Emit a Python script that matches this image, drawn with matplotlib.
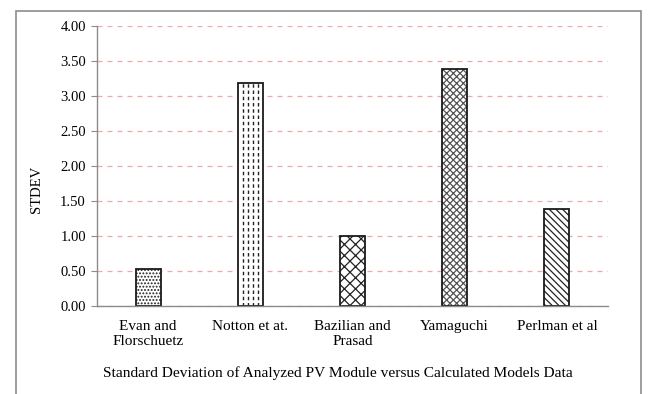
import matplotlib.pyplot as plt
from matplotlib.patches import Rectangle
from matplotlib.ticker import MultipleLocator, FormatStrFormatter

plt.rcParams['font.family'] = ['Liberation Serif', 'DejaVu Serif']
plt.rcParams['hatch.linewidth'] = 0.9

models = ['Evan and\nFlorschuetz', 'Notton et at.', 'Bazilian and\nPrasad',
          'Yamaguchi', 'Perlman et al']
stdev = [0.53, 3.19, 1.00, 3.39, 1.38]
hatches = ['.....', '', 'xxx', 'xxxxx', '\\\\\\\\\\']
hatch_colors = ['#222222', '#222222', '#222222', '#555555', '#222222']

fig = plt.figure(figsize=(6.51, 3.94), dpi=100)
ax = fig.add_axes([0.149, 0.2234, 0.785, 0.7106])

x = list(range(len(models)))
width = 0.245
# hatch layer first, then a plain outline on top
for xi, v, h, hc in zip(x, stdev, hatches, hatch_colors):
    ax.bar(xi, v, width=width, color='white', edgecolor=hc, hatch=h, linewidth=0)

# Notton bar uses dashed vertical stripes instead of a hatch
i = 1
for off in (-0.075, -0.025, 0.025, 0.075):
    ax.vlines(x[i] + off, 0, stdev[i], colors='#222222', linewidth=1.0,
              linestyles=(0, (2.5, 2)))

ax.bar(x, stdev, width=width, color='none', edgecolor='#1a1a1a', linewidth=1.3)

ax.set_xlim(-0.5, len(models) - 0.5)
ax.set_ylim(0, 4.0)
ax.yaxis.set_major_locator(MultipleLocator(0.5))
ax.yaxis.set_major_formatter(FormatStrFormatter('%.2f'))
ax.set_xticks(x)
ax.set_xticklabels(models, fontsize=11, linespacing=1.2)

ax.grid(axis='y', color='#eeaaaa', linestyle=(0, (4, 4)), linewidth=0.9)
ax.set_axisbelow(True)

for s in ['top', 'right']:
    ax.spines[s].set_visible(False)
for s in ['left', 'bottom']:
    ax.spines[s].set_color('#8c8c8c')
    ax.spines[s].set_linewidth(1.0)

ax.tick_params(axis='y', direction='out', length=4, color='#8c8c8c',
               labelsize=10.5, pad=4)
ax.tick_params(axis='x', length=0, pad=10)

ax.set_ylabel('STDEV', fontsize=10.5)
ax.yaxis.set_label_coords(-0.105, 0.418)
ax.set_xlabel('Standard Deviation of Analyzed PV Module versus Calculated Models Data',
              fontsize=11.1)
ax.xaxis.set_label_coords(0.472, -0.215)

# outer frame around the chart
fig.patches.append(Rectangle((0.0246, -0.02), 0.96, 0.992, transform=fig.transFigure,
                             fill=False, edgecolor='#8c8c8c', linewidth=1.2))

fig.savefig('out.png', dpi=100)
